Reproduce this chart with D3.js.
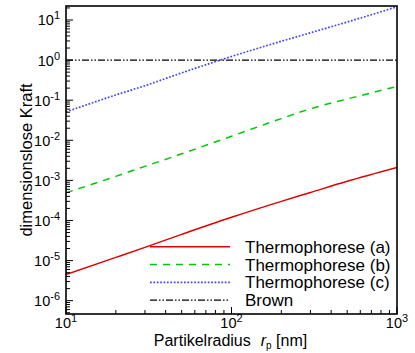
<!DOCTYPE html>
<html>
<head>
<meta charset="utf-8">
<script src="https://cdn.jsdelivr.net/npm/d3@7"></script>
<style>
  html, body { margin: 0; padding: 0; background: #fff; }
  svg text { font-family: "Liberation Sans", Arial, sans-serif; fill: #000; }
</style>
</head>
<body>
<svg id="chart" width="415" height="353"></svg>
<script>
// Particle radius in nm
const radius = [10, 20, 30, 50, 100, 200, 300, 500, 1000];
// Dimensionless forces
const thermoA = [4.5e-6, 1.2e-5, 2.14e-5, 4.5e-5, 1.2e-4, 3.0e-4, 5.0e-4, 9.5e-4, 2.1e-3];
const thermoB = [4.9e-4, 1.26e-3, 2.24e-3, 4.6e-3, 1.26e-2, 3.47e-2, 6.1e-2, 0.107, 0.22];
const thermoC = [0.051, 0.135, 0.23, 0.48, 1.23, 2.95, 4.8, 8.9, 21.4];
const brown = [1, 1, 1, 1, 1, 1, 1, 1, 1];

const seriesNames = ["Thermophorese (a)", "Thermophorese (b)", "Thermophorese (c)", "Brown"];
const xTickExponents = [1, 2, 3];
const yTickExponents = [-6, -5, -4, -3, -2, -1, 0, 1];

const svg = d3.select("#chart");
const margin = {left: 66, right: 18, top: 6, bottom: 39};
const W = 415, H = 353;
const x0 = margin.left, x1 = W - margin.right;
const y0 = margin.top, y1 = H - margin.bottom;

const x = d3.scaleLog().domain([10, 1000]).range([x0, x1]);
const y = d3.scaleLog().domain([Math.pow(10, -6.332), Math.pow(10, 1.349)]).range([y1, y0]);

const styles = [
  {color: "#e00000", width: 1.5, dash: null},
  {color: "#00c800", width: 1.5, dash: "7,6"},
  {color: "#4040ff", width: 1.7, dash: "1.7,1.7"},
  {color: "#000000", width: 1.2, dash: "7,2,1.5,2,1.5,2"}
];
const allSeries = [thermoA, thermoB, thermoC, brown];

svg.append("clipPath").attr("id", "plotclip")
  .append("rect").attr("x", x0).attr("y", y0).attr("width", x1 - x0).attr("height", y1 - y0);

const line = d3.line()
  .x((d, i) => x(radius[i]))
  .y(d => y(d))
  .curve(d3.curveMonotoneX);

const plot = svg.append("g").attr("clip-path", "url(#plotclip)");
allSeries.forEach((s, k) => {
  plot.append("path")
    .datum(s)
    .attr("d", line)
    .attr("fill", "none")
    .attr("stroke", styles[k].color)
    .attr("stroke-width", styles[k].width)
    .attr("stroke-dasharray", styles[k].dash);
});

// Minor and major ticks, pointing inwards
const xTicks = [];
for (let e = 1; e < 3; e++) for (let m = 1; m < 10; m++) xTicks.push({v: m * Math.pow(10, e), major: m === 1});
xTicks.push({v: 1000, major: true});
const yTicks = [];
for (let e = -7; e <= 1; e++) for (let m = 1; m < 10; m++) {
  const v = m * Math.pow(10, e);
  if (y(v) >= y0 && y(v) <= y1) yTicks.push({v: v, major: m === 1});
}

const axes = svg.append("g").attr("stroke", "#000");
axes.selectAll("line.xt").data(xTicks).join("line")
  .attr("x1", d => x(d.v)).attr("x2", d => x(d.v))
  .attr("y1", y1).attr("y2", d => y1 - (d.major ? 7 : 4))
  .attr("stroke-width", 1);
axes.selectAll("line.yt").data(yTicks).join("line")
  .attr("y1", d => y(d.v)).attr("y2", d => y(d.v))
  .attr("x1", x0).attr("x2", d => x0 + (d.major ? 7 : 4))
  .attr("stroke-width", 1);

// Frame
svg.append("rect")
  .attr("x", x0).attr("y", y0).attr("width", x1 - x0).attr("height", y1 - y0)
  .attr("fill", "none").attr("stroke", "#000").attr("stroke-width", 1.6);

// Tick labels as powers of ten
function powerLabel(g, exp) {
  g.append("tspan").text("10").attr("font-size", 14.5);
  g.append("tspan").text(String(exp)).attr("font-size", 11).attr("dy", -6);
}
xTickExponents.forEach(e => {
  const t = svg.append("text")
    .attr("x", x(Math.pow(10, e))).attr("y", y1 + 13.5)
    .attr("text-anchor", "middle");
  powerLabel(t, e);
});
yTickExponents.forEach(e => {
  const t = svg.append("text")
    .attr("x", x0 - 6).attr("y", y(Math.pow(10, e)) + 5.5)
    .attr("text-anchor", "end");
  powerLabel(t, e);
});

// Axis titles
const xt = svg.append("text")
  .attr("x", (x0 + x1) / 2 - 1).attr("y", 345.5)
  .attr("text-anchor", "middle").attr("font-size", 16);
xt.append("tspan").text("Partikelradius");
xt.append("tspan").text("r").attr("font-style", "italic").attr("dx", 10);
xt.append("tspan").text("p").attr("font-size", 10).attr("dy", 3.5);
xt.append("tspan").text(" [nm]").attr("dy", -3.5);

svg.append("text")
  .attr("transform", "translate(32,160) rotate(-90)")
  .attr("text-anchor", "middle").attr("font-size", 16.5)
  .text("dimensionslose Kraft");

// Legend
const legend = svg.append("g");
seriesNames.forEach((name, k) => {
  const ly = 246.7 + k * 17.8;
  legend.append("line")
    .attr("x1", 150).attr("x2", 230).attr("y1", ly).attr("y2", ly)
    .attr("stroke", styles[k].color)
    .attr("stroke-width", styles[k].width)
    .attr("stroke-dasharray", styles[k].dash);
  legend.append("text")
    .attr("x", 245).attr("y", ly + 6)
    .attr("font-size", 17)
    .text(name);
});
</script>
</body>
</html>
